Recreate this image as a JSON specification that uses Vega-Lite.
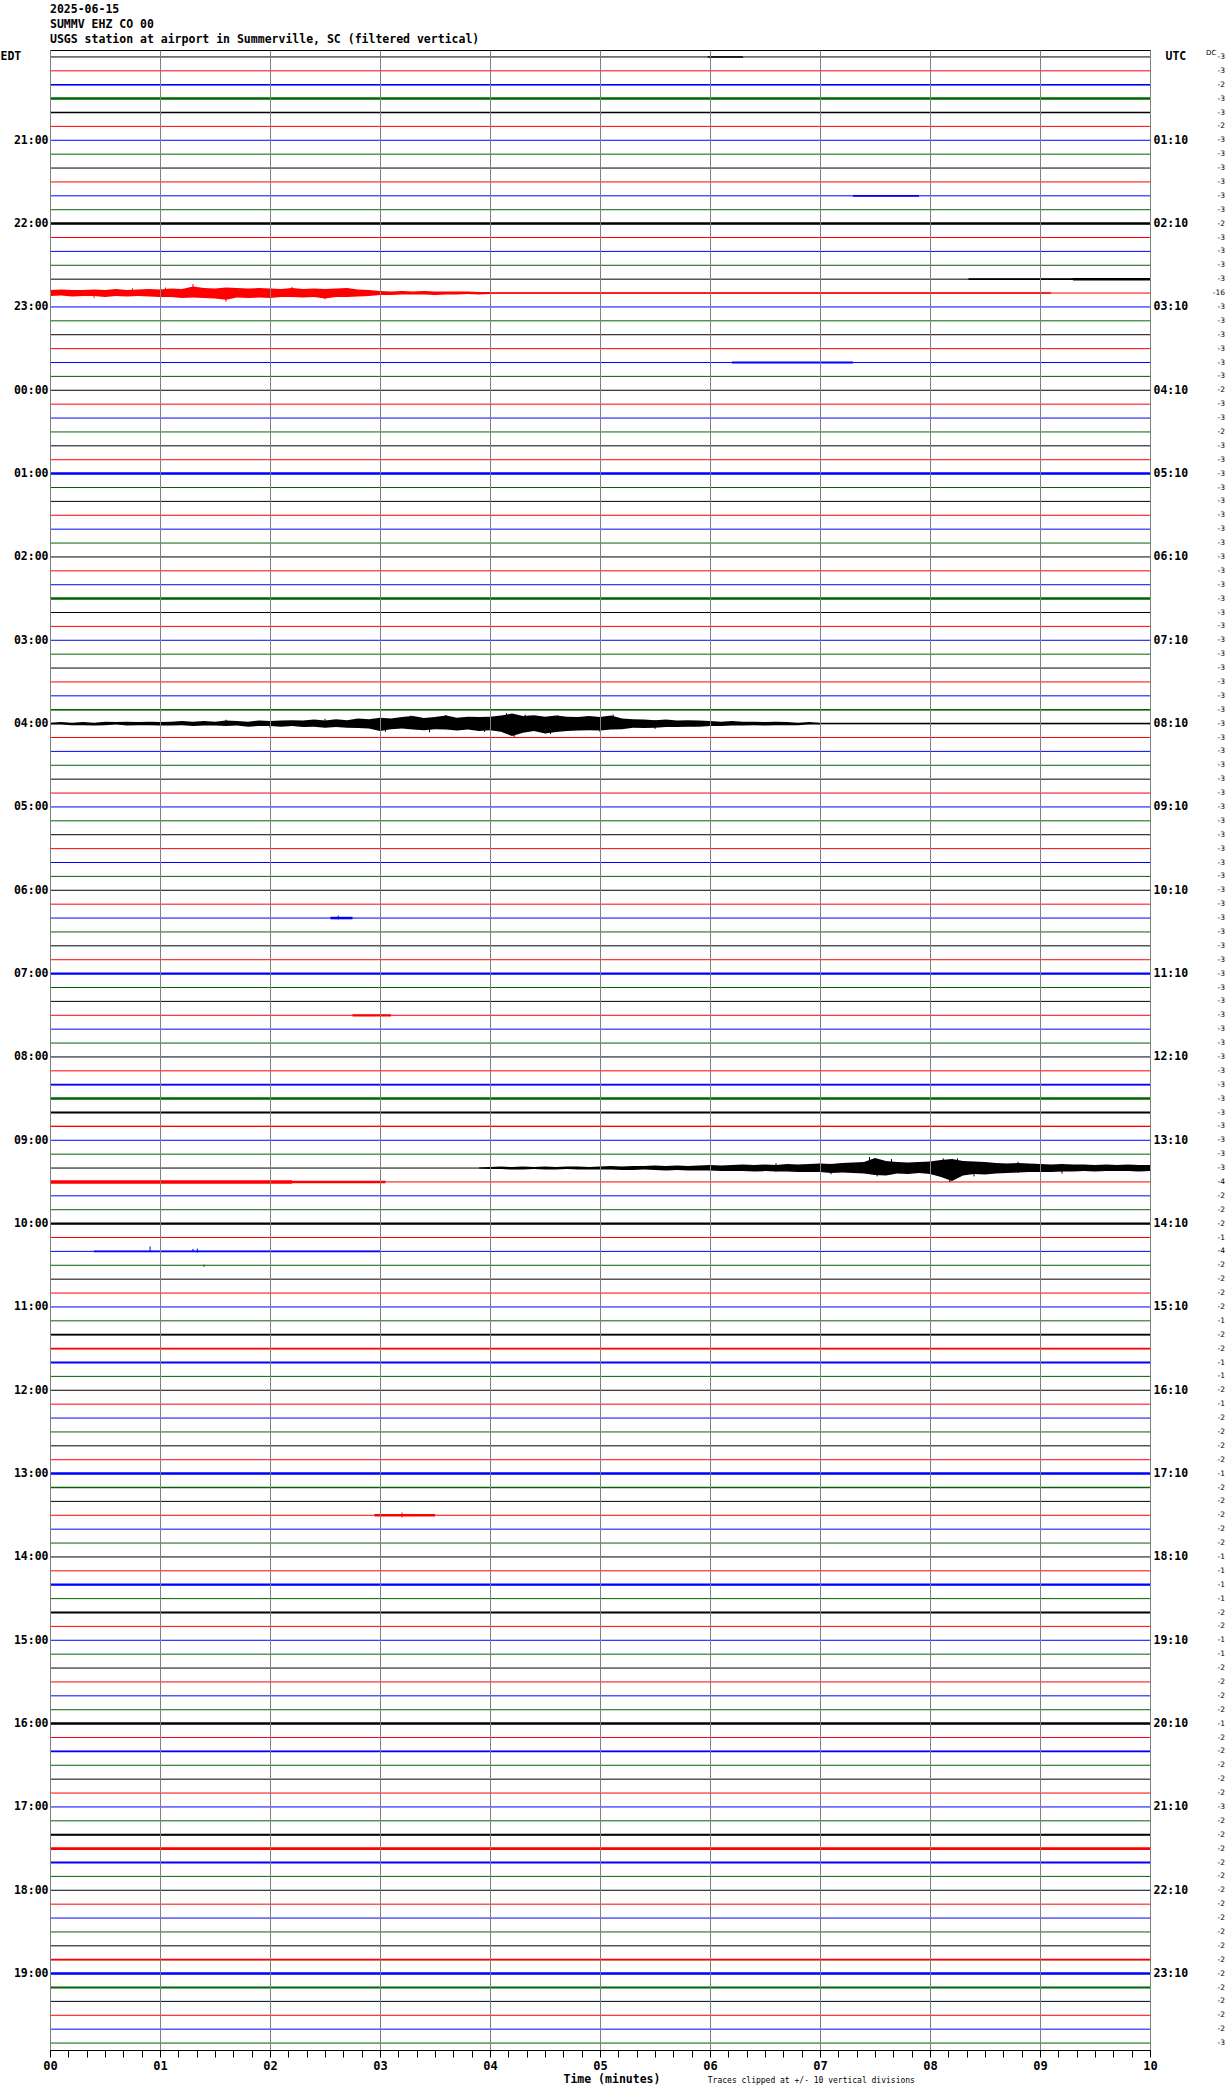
{
"$schema":"https://vega.github.io/schema/vega-lite/v6.json",
"width":1100,"height":2000,
"autosize":{"type":"none"},
"padding":{"left":50,"top":50,"right":80,"bottom":44},
"background":"#ffffff",
"config":{"view":{"stroke":"#000000","strokeWidth":1}},
"title":{"text":["2025-06-15","SUMMV EHZ CO 00","USGS station at airport in Summerville, SC (filtered vertical)"],"anchor":"start","frame":"group","font":"DejaVu Sans Mono","fontSize":11.5,"fontWeight":"bold","color":"#000000","lineHeight":15.3,"offset":3},
"datasets":{
"rows":[
{"r":0,"s":0,"dc":"-3"},{"r":1,"s":1,"dc":"-3"},{"r":2,"s":2,"dc":"-2"},{"r":3,"s":3,"dc":"-3"},
{"r":4,"s":0,"dc":"-3"},{"r":5,"s":1,"dc":"-2"},{"r":6,"s":2,"dc":"-3"},{"r":7,"s":3,"dc":"-3"},
{"r":8,"s":0,"dc":"-3"},{"r":9,"s":1,"dc":"-3"},{"r":10,"s":2,"dc":"-3"},{"r":11,"s":3,"dc":"-3"},
{"r":12,"s":0,"dc":"-2"},{"r":13,"s":1,"dc":"-3"},{"r":14,"s":2,"dc":"-3"},{"r":15,"s":3,"dc":"-3"},
{"r":16,"s":0,"dc":"-3"},{"r":17,"s":1,"dc":"-16"},{"r":18,"s":2,"dc":"-3"},{"r":19,"s":3,"dc":"-3"},
{"r":20,"s":0,"dc":"-3"},{"r":21,"s":1,"dc":"-3"},{"r":22,"s":2,"dc":"-3"},{"r":23,"s":3,"dc":"-3"},
{"r":24,"s":0,"dc":"-2"},{"r":25,"s":1,"dc":"-3"},{"r":26,"s":2,"dc":"-3"},{"r":27,"s":3,"dc":"-2"},
{"r":28,"s":0,"dc":"-3"},{"r":29,"s":1,"dc":"-3"},{"r":30,"s":2,"dc":"-3"},{"r":31,"s":3,"dc":"-3"},
{"r":32,"s":0,"dc":"-3"},{"r":33,"s":1,"dc":"-3"},{"r":34,"s":2,"dc":"-3"},{"r":35,"s":3,"dc":"-3"},
{"r":36,"s":0,"dc":"-3"},{"r":37,"s":1,"dc":"-3"},{"r":38,"s":2,"dc":"-3"},{"r":39,"s":3,"dc":"-3"},
{"r":40,"s":0,"dc":"-3"},{"r":41,"s":1,"dc":"-3"},{"r":42,"s":2,"dc":"-3"},{"r":43,"s":3,"dc":"-3"},
{"r":44,"s":0,"dc":"-3"},{"r":45,"s":1,"dc":"-3"},{"r":46,"s":2,"dc":"-3"},{"r":47,"s":3,"dc":"-3"},
{"r":48,"s":0,"dc":"-3"},{"r":49,"s":1,"dc":"-3"},{"r":50,"s":2,"dc":"-3"},{"r":51,"s":3,"dc":"-3"},
{"r":52,"s":0,"dc":"-3"},{"r":53,"s":1,"dc":"-3"},{"r":54,"s":2,"dc":"-3"},{"r":55,"s":3,"dc":"-3"},
{"r":56,"s":0,"dc":"-3"},{"r":57,"s":1,"dc":"-3"},{"r":58,"s":2,"dc":"-3"},{"r":59,"s":3,"dc":"-3"},
{"r":60,"s":0,"dc":"-3"},{"r":61,"s":1,"dc":"-3"},{"r":62,"s":2,"dc":"-3"},{"r":63,"s":3,"dc":"-3"},
{"r":64,"s":0,"dc":"-3"},{"r":65,"s":1,"dc":"-3"},{"r":66,"s":2,"dc":"-3"},{"r":67,"s":3,"dc":"-3"},
{"r":68,"s":0,"dc":"-3"},{"r":69,"s":1,"dc":"-3"},{"r":70,"s":2,"dc":"-3"},{"r":71,"s":3,"dc":"-3"},
{"r":72,"s":0,"dc":"-3"},{"r":73,"s":1,"dc":"-3"},{"r":74,"s":2,"dc":"-3"},{"r":75,"s":3,"dc":"-3"},
{"r":76,"s":0,"dc":"-3"},{"r":77,"s":1,"dc":"-3"},{"r":78,"s":2,"dc":"-3"},{"r":79,"s":3,"dc":"-3"},
{"r":80,"s":0,"dc":"-3"},{"r":81,"s":1,"dc":"-4"},{"r":82,"s":2,"dc":"-2"},{"r":83,"s":3,"dc":"-2"},
{"r":84,"s":0,"dc":"-2"},{"r":85,"s":1,"dc":"-1"},{"r":86,"s":2,"dc":"-4"},{"r":87,"s":3,"dc":"-2"},
{"r":88,"s":0,"dc":"-2"},{"r":89,"s":1,"dc":"-2"},{"r":90,"s":2,"dc":"-2"},{"r":91,"s":3,"dc":"-1"},
{"r":92,"s":0,"dc":"-2"},{"r":93,"s":1,"dc":"-2"},{"r":94,"s":2,"dc":"-1"},{"r":95,"s":3,"dc":"-1"},
{"r":96,"s":0,"dc":"-2"},{"r":97,"s":1,"dc":"-1"},{"r":98,"s":2,"dc":"-2"},{"r":99,"s":3,"dc":"-2"},
{"r":100,"s":0,"dc":"-2"},{"r":101,"s":1,"dc":"-2"},{"r":102,"s":2,"dc":"-1"},{"r":103,"s":3,"dc":"-2"},
{"r":104,"s":0,"dc":"-2"},{"r":105,"s":1,"dc":"-2"},{"r":106,"s":2,"dc":"-2"},{"r":107,"s":3,"dc":"-2"},
{"r":108,"s":0,"dc":"-1"},{"r":109,"s":1,"dc":"-1"},{"r":110,"s":2,"dc":"-1"},{"r":111,"s":3,"dc":"-1"},
{"r":112,"s":0,"dc":"-2"},{"r":113,"s":1,"dc":"-2"},{"r":114,"s":2,"dc":"-1"},{"r":115,"s":3,"dc":"-1"},
{"r":116,"s":0,"dc":"-2"},{"r":117,"s":1,"dc":"-2"},{"r":118,"s":2,"dc":"-2"},{"r":119,"s":3,"dc":"-2"},
{"r":120,"s":0,"dc":"-1"},{"r":121,"s":1,"dc":"-2"},{"r":122,"s":2,"dc":"-2"},{"r":123,"s":3,"dc":"-2"},
{"r":124,"s":0,"dc":"-2"},{"r":125,"s":1,"dc":"-2"},{"r":126,"s":2,"dc":"-3"},{"r":127,"s":3,"dc":"-2"},
{"r":128,"s":0,"dc":"-2"},{"r":129,"s":1,"dc":"-2"},{"r":130,"s":2,"dc":"-2"},{"r":131,"s":3,"dc":"-2"},
{"r":132,"s":0,"dc":"-2"},{"r":133,"s":1,"dc":"-2"},{"r":134,"s":2,"dc":"-2"},{"r":135,"s":3,"dc":"-2"},
{"r":136,"s":0,"dc":"-2"},{"r":137,"s":1,"dc":"-2"},{"r":138,"s":2,"dc":"-2"},{"r":139,"s":3,"dc":"-2"},
{"r":140,"s":0,"dc":"-2"},{"r":141,"s":1,"dc":"-2"},{"r":142,"s":2,"dc":"-2"},{"r":143,"s":3,"dc":"-3"}
],
"noise":[
{"r":0,"s":0,"t0":5.98,"t1":6.3,"n":0.6},
{"r":2,"s":2,"t0":0,"t1":10,"n":0.5},
{"r":3,"s":3,"t0":0,"t1":10,"n":1.5},
{"r":4,"s":0,"t0":0,"t1":10,"n":0.5},
{"r":10,"s":2,"t0":7.3,"t1":7.9,"n":0.8},
{"r":12,"s":0,"t0":0,"t1":10,"n":1.5},
{"r":16,"s":0,"t0":8.35,"t1":9.3,"n":0.6},
{"r":16,"s":0,"t0":9.3,"t1":10,"n":1.5},
{"r":17,"s":1,"t0":4.0,"t1":9.1,"n":0.5},
{"r":22,"s":2,"t0":6.2,"t1":7.3,"n":0.8},
{"r":30,"s":2,"t0":0,"t1":10,"n":1.5},
{"r":39,"s":3,"t0":0,"t1":10,"n":1.5},
{"r":47,"s":3,"t0":0,"t1":10,"n":0.5},
{"r":48,"s":0,"t0":7.0,"t1":10,"n":0.5},
{"r":62,"s":2,"t0":2.55,"t1":2.75,"n":1.5},
{"r":66,"s":2,"t0":0,"t1":10,"n":1.2},
{"r":69,"s":1,"t0":2.75,"t1":3.1,"n":1.2},
{"r":74,"s":2,"t0":0,"t1":10,"n":0.7},
{"r":75,"s":3,"t0":0,"t1":10,"n":1.5},
{"r":76,"s":0,"t0":0,"t1":10,"n":1.0},
{"r":77,"s":1,"t0":0,"t1":10,"n":0.4},
{"r":81,"s":1,"t0":0,"t1":2.2,"n":2.5},
{"r":81,"s":1,"t0":2.2,"t1":3.05,"n":1.5},
{"r":84,"s":0,"t0":0,"t1":10,"n":1.2},
{"r":86,"s":2,"t0":0.4,"t1":3.0,"n":0.6},
{"r":92,"s":0,"t0":0,"t1":10,"n":0.8},
{"r":93,"s":1,"t0":0,"t1":10,"n":0.8},
{"r":94,"s":2,"t0":0,"t1":10,"n":1.2},
{"r":102,"s":2,"t0":0,"t1":10,"n":1.5},
{"r":103,"s":3,"t0":0,"t1":10,"n":0.6},
{"r":105,"s":1,"t0":2.95,"t1":3.5,"n":1.5},
{"r":110,"s":2,"t0":0,"t1":10,"n":1.2},
{"r":112,"s":0,"t0":0,"t1":10,"n":1.0},
{"r":120,"s":0,"t0":0,"t1":10,"n":1.5},
{"r":122,"s":2,"t0":0,"t1":10,"n":0.7},
{"r":128,"s":0,"t0":0,"t1":10,"n":1.0},
{"r":129,"s":1,"t0":0,"t1":10,"n":1.8},
{"r":130,"s":2,"t0":0,"t1":10,"n":1.0},
{"r":137,"s":1,"t0":0,"t1":10,"n":0.8},
{"r":138,"s":2,"t0":0,"t1":10,"n":1.5},
{"r":139,"s":3,"t0":0,"t1":10,"n":0.8}
],
"spikes":[
{"r":86,"s":2,"t":0.91,"hi":85.64,"lo":86.03},
{"r":86,"s":2,"t":1.3,"hi":85.82,"lo":86.05},
{"r":86,"s":2,"t":1.34,"hi":85.8,"lo":86.08},
{"r":62,"s":2,"t":2.62,"hi":61.82,"lo":62.1},
{"r":105,"s":1,"t":3.2,"hi":104.8,"lo":105.15},
{"r":87,"s":3,"t":1.4,"hi":86.95,"lo":87.12},
{"r":48,"s":0,"t":1.6,"hi":47.72,"lo":48.1},
{"r":48,"s":0,"t":2.0,"hi":47.85,"lo":48.3},
{"r":48,"s":0,"t":2.5,"hi":47.65,"lo":48.2},
{"r":48,"s":0,"t":3.05,"hi":47.7,"lo":48.58},
{"r":48,"s":0,"t":3.28,"hi":47.42,"lo":48.3},
{"r":48,"s":0,"t":3.45,"hi":47.7,"lo":48.62},
{"r":48,"s":0,"t":3.6,"hi":47.38,"lo":48.3},
{"r":48,"s":0,"t":3.95,"hi":47.6,"lo":48.6},
{"r":48,"s":0,"t":4.15,"hi":47.25,"lo":48.4},
{"r":48,"s":0,"t":4.22,"hi":47.5,"lo":48.95},
{"r":48,"s":0,"t":4.32,"hi":47.35,"lo":48.5},
{"r":48,"s":0,"t":4.55,"hi":47.6,"lo":48.75},
{"r":48,"s":0,"t":4.62,"hi":47.4,"lo":48.5},
{"r":48,"s":0,"t":5.0,"hi":47.6,"lo":48.6},
{"r":48,"s":0,"t":5.12,"hi":47.35,"lo":48.4},
{"r":48,"s":0,"t":5.5,"hi":47.75,"lo":48.38},
{"r":80,"s":0,"t":6.6,"hi":79.65,"lo":80.25},
{"r":80,"s":0,"t":7.1,"hi":79.7,"lo":80.45},
{"r":80,"s":0,"t":7.45,"hi":79.2,"lo":80.4},
{"r":80,"s":0,"t":7.52,"hi":79.45,"lo":80.6},
{"r":80,"s":0,"t":7.65,"hi":79.35,"lo":80.45},
{"r":80,"s":0,"t":8.12,"hi":79.3,"lo":80.6},
{"r":80,"s":0,"t":8.18,"hi":79.5,"lo":81.0},
{"r":80,"s":0,"t":8.25,"hi":79.3,"lo":80.7},
{"r":80,"s":0,"t":8.4,"hi":79.55,"lo":80.6},
{"r":80,"s":0,"t":8.8,"hi":79.55,"lo":80.35},
{"r":80,"s":0,"t":9.2,"hi":79.7,"lo":80.4},
{"r":17,"s":1,"t":0.4,"hi":16.8,"lo":17.35},
{"r":17,"s":1,"t":0.75,"hi":16.65,"lo":17.2},
{"r":17,"s":1,"t":1.05,"hi":16.6,"lo":17.25},
{"r":17,"s":1,"t":1.3,"hi":16.35,"lo":17.3},
{"r":17,"s":1,"t":1.6,"hi":16.65,"lo":17.62},
{"r":17,"s":1,"t":2.2,"hi":16.55,"lo":17.3},
{"r":17,"s":1,"t":2.5,"hi":16.7,"lo":17.45}
],
"events":[
{"r":48,"s":0,"t":0.0,"hi":47.93,"lo":48.07},{"r":48,"s":0,"t":0.1,"hi":47.89,"lo":48.07},{"r":48,"s":0,"t":0.2,"hi":47.93,"lo":48.11},{"r":48,"s":0,"t":0.3,"hi":47.89,"lo":48.11},{"r":48,"s":0,"t":0.4,"hi":47.93,"lo":48.14},{"r":48,"s":0,"t":0.5,"hi":47.86,"lo":48.11},{"r":48,"s":0,"t":0.6,"hi":47.89,"lo":48.07},{"r":48,"s":0,"t":0.7,"hi":47.86,"lo":48.14},{"r":48,"s":0,"t":0.8,"hi":47.89,"lo":48.11},{"r":48,"s":0,"t":0.9,"hi":47.86,"lo":48.11},
{"r":48,"s":0,"t":1.0,"hi":47.89,"lo":48.14},{"r":48,"s":0,"t":1.1,"hi":47.86,"lo":48.14},{"r":48,"s":0,"t":1.2,"hi":47.82,"lo":48.11},{"r":48,"s":0,"t":1.3,"hi":47.86,"lo":48.18},{"r":48,"s":0,"t":1.4,"hi":47.82,"lo":48.14},{"r":48,"s":0,"t":1.5,"hi":47.86,"lo":48.14},{"r":48,"s":0,"t":1.6,"hi":47.78,"lo":48.18},{"r":48,"s":0,"t":1.7,"hi":47.82,"lo":48.14},{"r":48,"s":0,"t":1.8,"hi":47.86,"lo":48.22},{"r":48,"s":0,"t":1.9,"hi":47.78,"lo":48.18},
{"r":48,"s":0,"t":2.0,"hi":47.82,"lo":48.18},{"r":48,"s":0,"t":2.1,"hi":47.78,"lo":48.22},{"r":48,"s":0,"t":2.2,"hi":47.75,"lo":48.18},{"r":48,"s":0,"t":2.3,"hi":47.78,"lo":48.25},{"r":48,"s":0,"t":2.4,"hi":47.71,"lo":48.22},{"r":48,"s":0,"t":2.5,"hi":47.78,"lo":48.29},{"r":48,"s":0,"t":2.6,"hi":47.68,"lo":48.25},{"r":48,"s":0,"t":2.7,"hi":47.75,"lo":48.29},{"r":48,"s":0,"t":2.8,"hi":47.64,"lo":48.32},{"r":48,"s":0,"t":2.9,"hi":47.68,"lo":48.36},
{"r":48,"s":0,"t":3.0,"hi":47.57,"lo":48.54},{"r":48,"s":0,"t":3.1,"hi":47.64,"lo":48.40},{"r":48,"s":0,"t":3.2,"hi":47.53,"lo":48.36},{"r":48,"s":0,"t":3.3,"hi":47.46,"lo":48.43},{"r":48,"s":0,"t":3.4,"hi":47.60,"lo":48.47},{"r":48,"s":0,"t":3.5,"hi":47.53,"lo":48.40},{"r":48,"s":0,"t":3.6,"hi":47.42,"lo":48.43},{"r":48,"s":0,"t":3.7,"hi":47.57,"lo":48.50},{"r":48,"s":0,"t":3.8,"hi":47.50,"lo":48.43},{"r":48,"s":0,"t":3.9,"hi":47.53,"lo":48.54},
{"r":48,"s":0,"t":4.0,"hi":47.50,"lo":48.47},{"r":48,"s":0,"t":4.1,"hi":47.42,"lo":48.58},{"r":48,"s":0,"t":4.2,"hi":47.28,"lo":48.90},{"r":48,"s":0,"t":4.3,"hi":47.46,"lo":48.65},{"r":48,"s":0,"t":4.4,"hi":47.39,"lo":48.54},{"r":48,"s":0,"t":4.5,"hi":47.50,"lo":48.72},{"r":48,"s":0,"t":4.6,"hi":47.42,"lo":48.61},{"r":48,"s":0,"t":4.7,"hi":47.50,"lo":48.54},{"r":48,"s":0,"t":4.8,"hi":47.53,"lo":48.50},{"r":48,"s":0,"t":4.9,"hi":47.46,"lo":48.47},
{"r":48,"s":0,"t":5.0,"hi":47.53,"lo":48.50},{"r":48,"s":0,"t":5.1,"hi":47.42,"lo":48.43},{"r":48,"s":0,"t":5.2,"hi":47.64,"lo":48.40},{"r":48,"s":0,"t":5.3,"hi":47.68,"lo":48.29},{"r":48,"s":0,"t":5.4,"hi":47.71,"lo":48.32},{"r":48,"s":0,"t":5.5,"hi":47.75,"lo":48.29},{"r":48,"s":0,"t":5.6,"hi":47.71,"lo":48.25},{"r":48,"s":0,"t":5.7,"hi":47.78,"lo":48.25},{"r":48,"s":0,"t":5.8,"hi":47.75,"lo":48.22},{"r":48,"s":0,"t":5.9,"hi":47.78,"lo":48.22},
{"r":48,"s":0,"t":6.0,"hi":47.82,"lo":48.18},{"r":48,"s":0,"t":6.1,"hi":47.86,"lo":48.18},{"r":48,"s":0,"t":6.2,"hi":47.82,"lo":48.14},{"r":48,"s":0,"t":6.3,"hi":47.86,"lo":48.14},{"r":48,"s":0,"t":6.4,"hi":47.86,"lo":48.11},{"r":48,"s":0,"t":6.5,"hi":47.89,"lo":48.14},{"r":48,"s":0,"t":6.6,"hi":47.86,"lo":48.11},{"r":48,"s":0,"t":6.7,"hi":47.89,"lo":48.11},{"r":48,"s":0,"t":6.8,"hi":47.93,"lo":48.11},{"r":48,"s":0,"t":6.9,"hi":47.89,"lo":48.07},{"r":48,"s":0,"t":7.0,"hi":47.93,"lo":48.07},
{"r":80,"s":0,"t":3.9,"hi":79.96,"lo":80.04},{"r":80,"s":0,"t":4.0,"hi":79.93,"lo":80.07},{"r":80,"s":0,"t":4.1,"hi":79.89,"lo":80.07},{"r":80,"s":0,"t":4.2,"hi":79.93,"lo":80.11},{"r":80,"s":0,"t":4.3,"hi":79.89,"lo":80.11},{"r":80,"s":0,"t":4.4,"hi":79.93,"lo":80.07},{"r":80,"s":0,"t":4.5,"hi":79.89,"lo":80.11},{"r":80,"s":0,"t":4.6,"hi":79.93,"lo":80.11},{"r":80,"s":0,"t":4.7,"hi":79.89,"lo":80.07},{"r":80,"s":0,"t":4.8,"hi":79.89,"lo":80.11},{"r":80,"s":0,"t":4.9,"hi":79.93,"lo":80.11},
{"r":80,"s":0,"t":5.0,"hi":79.89,"lo":80.11},{"r":80,"s":0,"t":5.1,"hi":79.86,"lo":80.11},{"r":80,"s":0,"t":5.2,"hi":79.89,"lo":80.14},{"r":80,"s":0,"t":5.3,"hi":79.86,"lo":80.14},{"r":80,"s":0,"t":5.4,"hi":79.86,"lo":80.11},{"r":80,"s":0,"t":5.5,"hi":79.82,"lo":80.14},{"r":80,"s":0,"t":5.6,"hi":79.86,"lo":80.18},{"r":80,"s":0,"t":5.7,"hi":79.82,"lo":80.14},{"r":80,"s":0,"t":5.8,"hi":79.86,"lo":80.18},{"r":80,"s":0,"t":5.9,"hi":79.82,"lo":80.18},
{"r":80,"s":0,"t":6.0,"hi":79.78,"lo":80.18},{"r":80,"s":0,"t":6.1,"hi":79.82,"lo":80.22},{"r":80,"s":0,"t":6.2,"hi":79.78,"lo":80.22},{"r":80,"s":0,"t":6.3,"hi":79.75,"lo":80.22},{"r":80,"s":0,"t":6.4,"hi":79.78,"lo":80.25},{"r":80,"s":0,"t":6.5,"hi":79.75,"lo":80.22},{"r":80,"s":0,"t":6.6,"hi":79.78,"lo":80.25},{"r":80,"s":0,"t":6.7,"hi":79.71,"lo":80.25},{"r":80,"s":0,"t":6.8,"hi":79.75,"lo":80.29},{"r":80,"s":0,"t":6.9,"hi":79.71,"lo":80.29},
{"r":80,"s":0,"t":7.0,"hi":79.68,"lo":80.29},{"r":80,"s":0,"t":7.1,"hi":79.71,"lo":80.36},{"r":80,"s":0,"t":7.2,"hi":79.64,"lo":80.32},{"r":80,"s":0,"t":7.3,"hi":79.60,"lo":80.36},{"r":80,"s":0,"t":7.4,"hi":79.57,"lo":80.40},{"r":80,"s":0,"t":7.5,"hi":79.28,"lo":80.50},{"r":80,"s":0,"t":7.6,"hi":79.50,"lo":80.54},{"r":80,"s":0,"t":7.7,"hi":79.57,"lo":80.40},{"r":80,"s":0,"t":7.8,"hi":79.60,"lo":80.43},{"r":80,"s":0,"t":7.9,"hi":79.57,"lo":80.36},
{"r":80,"s":0,"t":8.0,"hi":79.53,"lo":80.43},{"r":80,"s":0,"t":8.1,"hi":79.42,"lo":80.65},{"r":80,"s":0,"t":8.2,"hi":79.35,"lo":80.94},{"r":80,"s":0,"t":8.3,"hi":79.50,"lo":80.54},{"r":80,"s":0,"t":8.4,"hi":79.53,"lo":80.43},{"r":80,"s":0,"t":8.5,"hi":79.57,"lo":80.47},{"r":80,"s":0,"t":8.6,"hi":79.64,"lo":80.40},{"r":80,"s":0,"t":8.7,"hi":79.68,"lo":80.36},{"r":80,"s":0,"t":8.8,"hi":79.64,"lo":80.32},{"r":80,"s":0,"t":8.9,"hi":79.68,"lo":80.29},
{"r":80,"s":0,"t":9.0,"hi":79.71,"lo":80.29},{"r":80,"s":0,"t":9.1,"hi":79.75,"lo":80.29},{"r":80,"s":0,"t":9.2,"hi":79.71,"lo":80.25},{"r":80,"s":0,"t":9.3,"hi":79.75,"lo":80.25},{"r":80,"s":0,"t":9.4,"hi":79.75,"lo":80.22},{"r":80,"s":0,"t":9.5,"hi":79.78,"lo":80.25},{"r":80,"s":0,"t":9.6,"hi":79.75,"lo":80.22},{"r":80,"s":0,"t":9.7,"hi":79.78,"lo":80.22},{"r":80,"s":0,"t":9.8,"hi":79.75,"lo":80.22},{"r":80,"s":0,"t":9.9,"hi":79.78,"lo":80.25},{"r":80,"s":0,"t":10.0,"hi":79.78,"lo":80.22},
{"r":17,"s":1,"t":0.0,"hi":16.78,"lo":17.22},{"r":17,"s":1,"t":0.1,"hi":16.75,"lo":17.18},{"r":17,"s":1,"t":0.2,"hi":16.78,"lo":17.25},{"r":17,"s":1,"t":0.3,"hi":16.78,"lo":17.22},{"r":17,"s":1,"t":0.4,"hi":16.75,"lo":17.22},{"r":17,"s":1,"t":0.5,"hi":16.78,"lo":17.29},{"r":17,"s":1,"t":0.6,"hi":16.71,"lo":17.22},{"r":17,"s":1,"t":0.7,"hi":16.78,"lo":17.25},{"r":17,"s":1,"t":0.8,"hi":16.75,"lo":17.22},{"r":17,"s":1,"t":0.9,"hi":16.71,"lo":17.25},
{"r":17,"s":1,"t":1.0,"hi":16.75,"lo":17.29},{"r":17,"s":1,"t":1.1,"hi":16.68,"lo":17.29},{"r":17,"s":1,"t":1.2,"hi":16.71,"lo":17.36},{"r":17,"s":1,"t":1.3,"hi":16.52,"lo":17.32},{"r":17,"s":1,"t":1.4,"hi":16.64,"lo":17.36},{"r":17,"s":1,"t":1.5,"hi":16.68,"lo":17.40},{"r":17,"s":1,"t":1.6,"hi":16.60,"lo":17.48},{"r":17,"s":1,"t":1.7,"hi":16.64,"lo":17.32},{"r":17,"s":1,"t":1.8,"hi":16.68,"lo":17.36},{"r":17,"s":1,"t":1.9,"hi":16.64,"lo":17.32},
{"r":17,"s":1,"t":2.0,"hi":16.68,"lo":17.36},{"r":17,"s":1,"t":2.1,"hi":16.71,"lo":17.29},{"r":17,"s":1,"t":2.2,"hi":16.64,"lo":17.29},{"r":17,"s":1,"t":2.3,"hi":16.71,"lo":17.32},{"r":17,"s":1,"t":2.4,"hi":16.68,"lo":17.29},{"r":17,"s":1,"t":2.5,"hi":16.71,"lo":17.40},{"r":17,"s":1,"t":2.6,"hi":16.68,"lo":17.29},{"r":17,"s":1,"t":2.7,"hi":16.64,"lo":17.29},{"r":17,"s":1,"t":2.8,"hi":16.75,"lo":17.25},{"r":17,"s":1,"t":2.9,"hi":16.78,"lo":17.22},
{"r":17,"s":1,"t":3.0,"hi":16.86,"lo":17.14},{"r":17,"s":1,"t":3.1,"hi":16.89,"lo":17.14},{"r":17,"s":1,"t":3.2,"hi":16.86,"lo":17.11},{"r":17,"s":1,"t":3.3,"hi":16.89,"lo":17.11},{"r":17,"s":1,"t":3.4,"hi":16.86,"lo":17.11},{"r":17,"s":1,"t":3.5,"hi":16.89,"lo":17.14},{"r":17,"s":1,"t":3.6,"hi":16.89,"lo":17.11},{"r":17,"s":1,"t":3.7,"hi":16.89,"lo":17.11},{"r":17,"s":1,"t":3.8,"hi":16.89,"lo":17.07},{"r":17,"s":1,"t":3.9,"hi":16.93,"lo":17.11},{"r":17,"s":1,"t":4.0,"hi":16.93,"lo":17.07}
],
"dclabel":[{"lab":"DC"}],
"note":[{"txt":"Traces clipped at +/- 10 vertical divisions"}]
},
"resolve":{"axis":{"y":"independent"}},
"layer":[
{"data":{"name":"rows"},
 "mark":{"type":"rule","strokeWidth":1},
 "encoding":{
  "x":{"datum":0,"type":"quantitative","scale":{"domain":[0,10],"nice":false,"zero":false}},
  "x2":{"datum":10},
  "y":{"field":"r","type":"quantitative","scale":{"domain":[-0.5,143.5],"reverse":true,"nice":false,"zero":false},
   "axis":{"orient":"left","values":[6,12,18,24,30,36,42,48,54,60,66,72,78,84,90,96,102,108,114,120,126,132,138],
    "labelExpr":"['20:00','21:00','22:00','23:00','00:00','01:00','02:00','03:00','04:00','05:00','06:00','07:00','08:00','09:00','10:00','11:00','12:00','13:00','14:00','15:00','16:00','17:00','18:00','19:00'][round(datum.value/6)]",
    "ticks":false,"domain":false,"grid":false,"labelPadding":2,"tickCount":200,
    "labelFont":"DejaVu Sans Mono","labelFontSize":11.5,"labelFontWeight":"bold","labelColor":"#000000",
    "title":"EDT","titleAngle":0,"titleAlign":"left","titleBaseline":"middle","titleX":-50,"titleY":6,
    "titleFont":"DejaVu Sans Mono","titleFontSize":11.5,"titleFontWeight":"bold","titleColor":"#000000"}},
  "color":{"field":"s","type":"nominal","scale":{"domain":[0,1,2,3],"range":["#000000","#ff0000","#0000ff","#006400"]},"legend":null}
 }},
{"data":{"name":"noise"},
 "mark":{"type":"rule"},
 "encoding":{
  "x":{"field":"t0","type":"quantitative","scale":{"domain":[0,10],"nice":false,"zero":false},
   "axis":{"orient":"bottom","zindex":1,"tickCount":200,
    "values":[0,0.1667,0.3333,0.5,0.6667,0.8333,1,1.1667,1.3333,1.5,1.6667,1.8333,2,2.1667,2.3333,2.5,2.6667,2.8333,3,3.1667,3.3333,3.5,3.6667,3.8333,4,4.1667,4.3333,4.5,4.6667,4.8333,5,5.1667,5.3333,5.5,5.6667,5.8333,6,6.1667,6.3333,6.5,6.6667,6.8333,7,7.1667,7.3333,7.5,7.6667,7.8333,8,8.1667,8.3333,8.5,8.6667,8.8333,9,9.1667,9.3333,9.5,9.6667,9.8333,10],
    "grid":true,"gridColor":"#808080","gridWidth":1,
    "gridOpacity":{"condition":{"test":"abs(datum.value - round(datum.value)) < 0.01","value":1},"value":0},
    "domain":true,"domainColor":"#000000","domainWidth":1,
    "ticks":true,"tickColor":"#000000","tickSize":7,"tickWidth":1,
    "labelExpr":"abs(datum.value - round(datum.value)) < 0.01 ? (round(datum.value) < 10 ? '0' + round(datum.value) : '' + round(datum.value)) : ''",
    "labelFont":"DejaVu Sans Mono","labelFontSize":12,"labelFontWeight":"bold","labelColor":"#000000","labelPadding":3,
    "labelOverlap":false,"labelFlush":false,"labelBound":false,
    "title":"Time (minutes)","titleFont":"DejaVu Sans Mono","titleFontSize":11.5,"titleFontWeight":"bold","titleColor":"#000000",
    "titleX":513,"titleY":29,"titleAlign":"left","titleBaseline":"middle","titleAnchor":"start"}},
  "x2":{"field":"t1"},
  "y":{"field":"r","type":"quantitative","axis":null},
  "size":{"field":"n","type":"quantitative","scale":{"domain":[0,3],"range":[1,4]},"legend":null},
  "color":{"field":"s","type":"nominal","legend":null}
 }},
{"data":{"name":"events"},
 "mark":{"type":"area","opacity":1},
 "encoding":{
  "x":{"field":"t","type":"quantitative"},
  "y":{"field":"hi","type":"quantitative","axis":null},
  "y2":{"field":"lo"},
  "detail":{"field":"r","type":"nominal"},
  "color":{"field":"s","type":"nominal","legend":null}
 }},
{"data":{"name":"spikes"},
 "mark":{"type":"rule","strokeWidth":1},
 "encoding":{
  "x":{"field":"t","type":"quantitative"},
  "y":{"field":"hi","type":"quantitative","axis":null},
  "y2":{"field":"lo"},
  "color":{"field":"s","type":"nominal","legend":null}
 }},
{"data":{"name":"rows"},
 "mark":{"type":"text","align":"right","baseline":"middle","dx":75,"fontSize":7.5,"font":"DejaVu Sans","color":"#000000"},
 "encoding":{
  "x":{"datum":10,"type":"quantitative"},
  "y":{"field":"r","type":"quantitative",
   "axis":{"orient":"right","values":[6,12,18,24,30,36,42,48,54,60,66,72,78,84,90,96,102,108,114,120,126,132,138],
    "labelExpr":"['00:10','01:10','02:10','03:10','04:10','05:10','06:10','07:10','08:10','09:10','10:10','11:10','12:10','13:10','14:10','15:10','16:10','17:10','18:10','19:10','20:10','21:10','22:10','23:10'][round(datum.value/6)]",
    "ticks":false,"domain":false,"grid":false,"labelPadding":3,"tickCount":200,
    "labelFont":"DejaVu Sans Mono","labelFontSize":11.5,"labelFontWeight":"bold","labelColor":"#000000",
    "title":"UTC","titleAngle":0,"titleAlign":"left","titleBaseline":"middle","titleX":15,"titleY":6,
    "titleFont":"DejaVu Sans Mono","titleFontSize":11.5,"titleFontWeight":"bold","titleColor":"#000000"}},
  "text":{"field":"dc","type":"nominal"}
 }},
{"data":{"name":"dclabel"},
 "mark":{"type":"text","align":"left","baseline":"middle","dx":56,"dy":-4,"fontSize":7,"font":"DejaVu Sans","color":"#000000"},
 "encoding":{
  "x":{"datum":10,"type":"quantitative"},
  "y":{"datum":0,"type":"quantitative","axis":null},
  "text":{"field":"lab","type":"nominal"}
 }},
{"data":{"name":"note"},
 "mark":{"type":"text","align":"left","baseline":"middle","dy":30.5,"fontSize":8,"font":"DejaVu Sans Mono","color":"#000000"},
 "encoding":{
  "x":{"datum":5.98,"type":"quantitative"},
  "y":{"datum":143.5,"type":"quantitative","axis":null},
  "text":{"field":"txt","type":"nominal"}
 }}
]
}
